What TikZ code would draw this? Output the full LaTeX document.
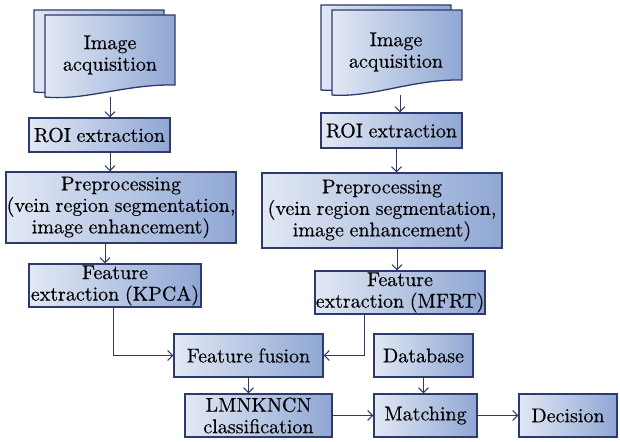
\documentclass[tikz,border=0pt]{standalone}
\usepackage{fontspec}
\newfontfamily\lblfont{lmroman10-regular.otf}[BoldFont=lmroman10-regular.otf, BoldFeatures={FakeBold=0.3}, WordSpace=0.85]
\usetikzlibrary{arrows.meta}
\definecolor{navy}{HTML}{2E3A6E}
\definecolor{shadeL}{HTML}{E2E8F4}
\definecolor{shadeR}{HTML}{8FA7D4}
\begin{document}
\begin{tikzpicture}[x=1pt,y=-1pt,
  txt/.style={align=center, inner sep=0pt, text=black, font=\lblfont\bfseries\fontsize{20}{21.5}\selectfont},
  box/.style={txt, draw=navy, line width=1.3pt, left color=shadeL, right color=shadeR},
  sheet/.style={draw=navy, line width=1.3pt, left color=shadeL, right color=shadeR},
  arr/.style={draw=navy, line width=1pt, -{Straight Barb[length=5pt,width=10pt]}}]
\useasboundingbox (0,0) rectangle (620,441);

% left document stack
\path[sheet] (34,10) -- (164,10) -- (164,80) .. controls (114,79) and (74,96) .. (34,92) -- cycle;
\path[sheet] (45,15) -- (175,15) -- (175,85) .. controls (125,84) and (85,101) .. (45,97) -- cycle;
\node[txt] (acqL) at (110,55) {Image\\acquisition};
\coordinate (acqLb) at (110,97);

% right document stack
\path[sheet] (321,5) -- (451,5) -- (451,75) .. controls (401,74) and (361,93) .. (321,90) -- cycle;
\path[sheet] (332,10) -- (462,10) -- (462,80) .. controls (412,79) and (372,98) .. (332,95) -- cycle;
\node[txt] (acqR) at (396,52) {Image\\acquisition};
\coordinate (acqRb) at (400,95);

% left branch
\node[box, minimum width=141pt, minimum height=34pt] (roiL) at (99.5,135) {ROI extraction};
\node[box, minimum width=230pt, minimum height=71pt] (preL) at (121,207.5) {Preprocessing\\(vein region segmentation,\\image enhancement)};
\node[box, minimum width=172pt, minimum height=43pt] (kpca) at (115,285.5) {Feature\\extraction (KPCA)};

% right branch
\node[box, minimum width=141pt, minimum height=35pt] (roiR) at (391.5,130.5) {ROI extraction};
\node[box, minimum width=240pt, minimum height=75pt] (preR) at (382,210.5) {Preprocessing\\(vein region segmentation,\\image enhancement)};
\node[box, minimum width=170pt, minimum height=43pt] (mfrt) at (400,292.5) {Feature\\extraction (MFRT)};

% fusion and decision stage
\node[box, minimum width=149pt, minimum height=43pt] (fusion) at (248.5,355.5) {Feature fusion};
\node[box, minimum width=99pt, minimum height=43pt] (db) at (423.5,355.5) {Database};
\node[box, minimum width=147pt, minimum height=43pt] (lmn) at (258.5,415.5) {LMNKNCN\\classification};
\node[box, minimum width=103pt, minimum height=43pt] (match) at (425.5,415.5) {Matching};
\node[box, minimum width=98pt, minimum height=43pt] (dec) at (568,415.5) {Decision};

% connectors
\draw[arr] (acqLb) -- (acqLb |- roiL.north);
\draw[arr] (acqLb |- roiL.south) -- (acqLb |- preL.north);
\draw[arr] ([xshift=-10pt]kpca.north |- preL.south) -- ([xshift=-10pt]kpca.north);
\draw[arr] (acqRb) -- (acqRb |- roiR.north);
\draw[arr] ([xshift=5pt]roiR.south) -- ([xshift=5pt]roiR.south |- preR.north);
\draw[arr] ([xshift=-3pt]mfrt.north |- preR.south) -- ([xshift=-3pt]mfrt.north);
\draw[arr] ([xshift=-2pt]kpca.south) |- (fusion.west);
\draw[arr] ([xshift=-36pt]mfrt.south) |- (fusion.east);
\draw[arr] (fusion.south) -- (fusion.south |- lmn.north);
\draw[arr] (db.south) -- (db.south |- match.north);
\draw[arr] (lmn.east) -- (lmn.east -| match.west);
\draw[arr] (match.east) -- (match.east -| dec.west);
\end{tikzpicture}
\end{document}
